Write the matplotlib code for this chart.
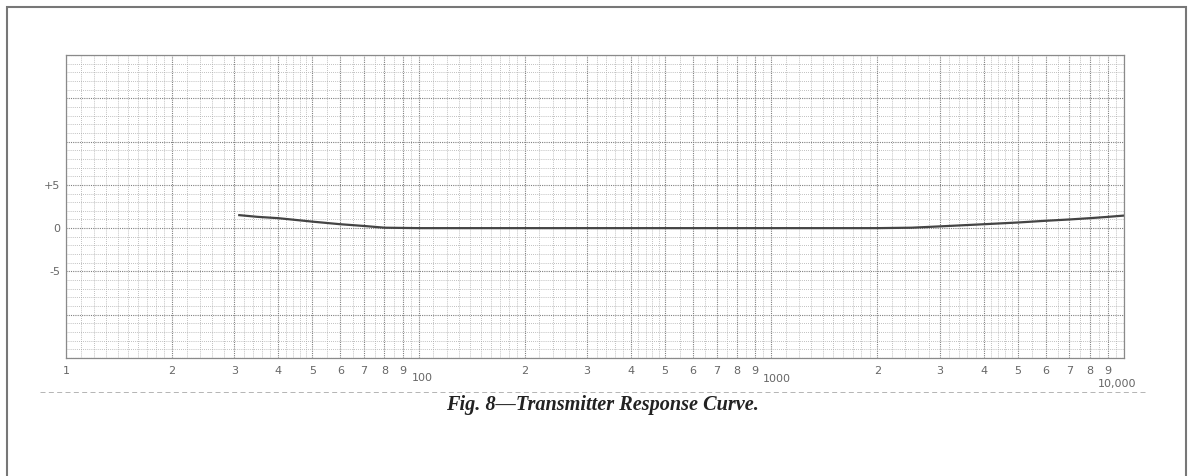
import numpy as np
import matplotlib
matplotlib.use('Agg')
import matplotlib.pyplot as plt
from matplotlib.ticker import FixedLocator, NullFormatter
from matplotlib.patches import Rectangle
from matplotlib.lines import Line2D

# Respuesta del transmisor (dB) frente a frecuencia (c/s)
frecuencia = [31, 35, 40, 50, 60, 70, 80, 100, 200, 500, 1000, 2000,
              2500, 3000, 4000, 5000, 6000, 7000, 8000, 9000, 10000]
respuesta = [1.5, 1.3, 1.15, 0.75, 0.45, 0.25, 0.05, 0.0, 0.0, 0.0, 0.0, 0.0,
             0.05, 0.2, 0.45, 0.65, 0.85, 1.0, 1.15, 1.3, 1.45]

# Etiquetas del papel logaritmico
ticks_x = [m * 10 ** d for d in (1, 2, 3) for m in range(1, 10)] + [10000]
etiquetas_x = ['1', '2', '3', '4', '5', '6', '7', '8', '9',
               '', '2', '3', '4', '5', '6', '7', '8', '9',
               '', '2', '3', '4', '5', '6', '7', '8', '9', '']
decadas = [100, 1000, 10000]
etiquetas_decadas = ['100', '1000', '10,000']
ticks_y = [5, 0, -5]
etiquetas_y = ['+5', '0', '-5']

fig = plt.figure(figsize=(11.89, 4.76), dpi=100)
ax = fig.add_axes([0.0555, 0.2479, 0.8898, 0.6366])
ax.set_xscale('log')
ax.set_xlim(10, 10000)
ax.set_ylim(-15, 20)

# Rejilla fina tipo papel milimetrado
finas = []
for d in (1, 2, 3):
    base = 10 ** d
    finas += list(np.arange(1, 2, 0.1) * base) + list(np.arange(2, 5, 0.2) * base) + list(np.arange(5, 10, 0.5) * base)
ax.xaxis.set_minor_locator(FixedLocator(finas))
ax.xaxis.set_minor_formatter(NullFormatter())
ax.yaxis.set_minor_locator(FixedLocator(np.arange(-15, 20.01, 1)))
ax.grid(True, which='minor', color='#ababab', lw=0.6, ls=(0, (1, 1.5)))
ax.grid(True, which='major', color='#808080', lw=0.8, ls=(0, (1, 1)))
ax.tick_params(which='both', length=0)

ax.set_xticks(ticks_x)
ax.set_xticklabels(etiquetas_x, color='#666666', fontsize=8)
ax.set_yticks(list(np.arange(-15, 21, 5)))
ax.set_yticklabels([etiquetas_y[ticks_y.index(v)] if v in ticks_y else '' for v in range(-15, 21, 5)],
                   color='#666666', fontsize=8)
ax.tick_params(axis='x', pad=6)
ax.tick_params(axis='y', pad=4)

# Decadas algo desplazadas bajo su linea
desplazamientos = [(3, -10.8), (4.3, -11.5), (-5, -15)]
for f, t, d in zip(decadas, etiquetas_decadas, desplazamientos):
    ax.annotate(t, (f, -15), xytext=d, textcoords='offset points',
                ha='center', va='top', fontsize=8, color='#666666')

for s in ax.spines.values():
    s.set_color('#8a8a8a')
    s.set_linestyle((0, (1, 1)))
    s.set_linewidth(0.9)

ax.plot(frecuencia, respuesta, color='#444444', lw=1.6)

# Pie de figura
fig.text(0.507, 0.150, 'Fig. 8\u2014Transmitter Response Curve.', ha='center', va='center',
         fontsize=14.6, family='Liberation Serif', style='italic', weight='bold', color='#222222')

# Linea discontinua bajo la escala y marco de la pagina
fig.add_artist(Line2D([0.034, 0.965], [0.176, 0.176], color='#a8a8a8', lw=0.6, ls=(0, (6, 4))))
fig.add_artist(Rectangle((0.0059, -0.05), 0.9916, 1.035, fill=False, edgecolor='#777777', lw=1.5))

plt.savefig('out.png', dpi=100)
